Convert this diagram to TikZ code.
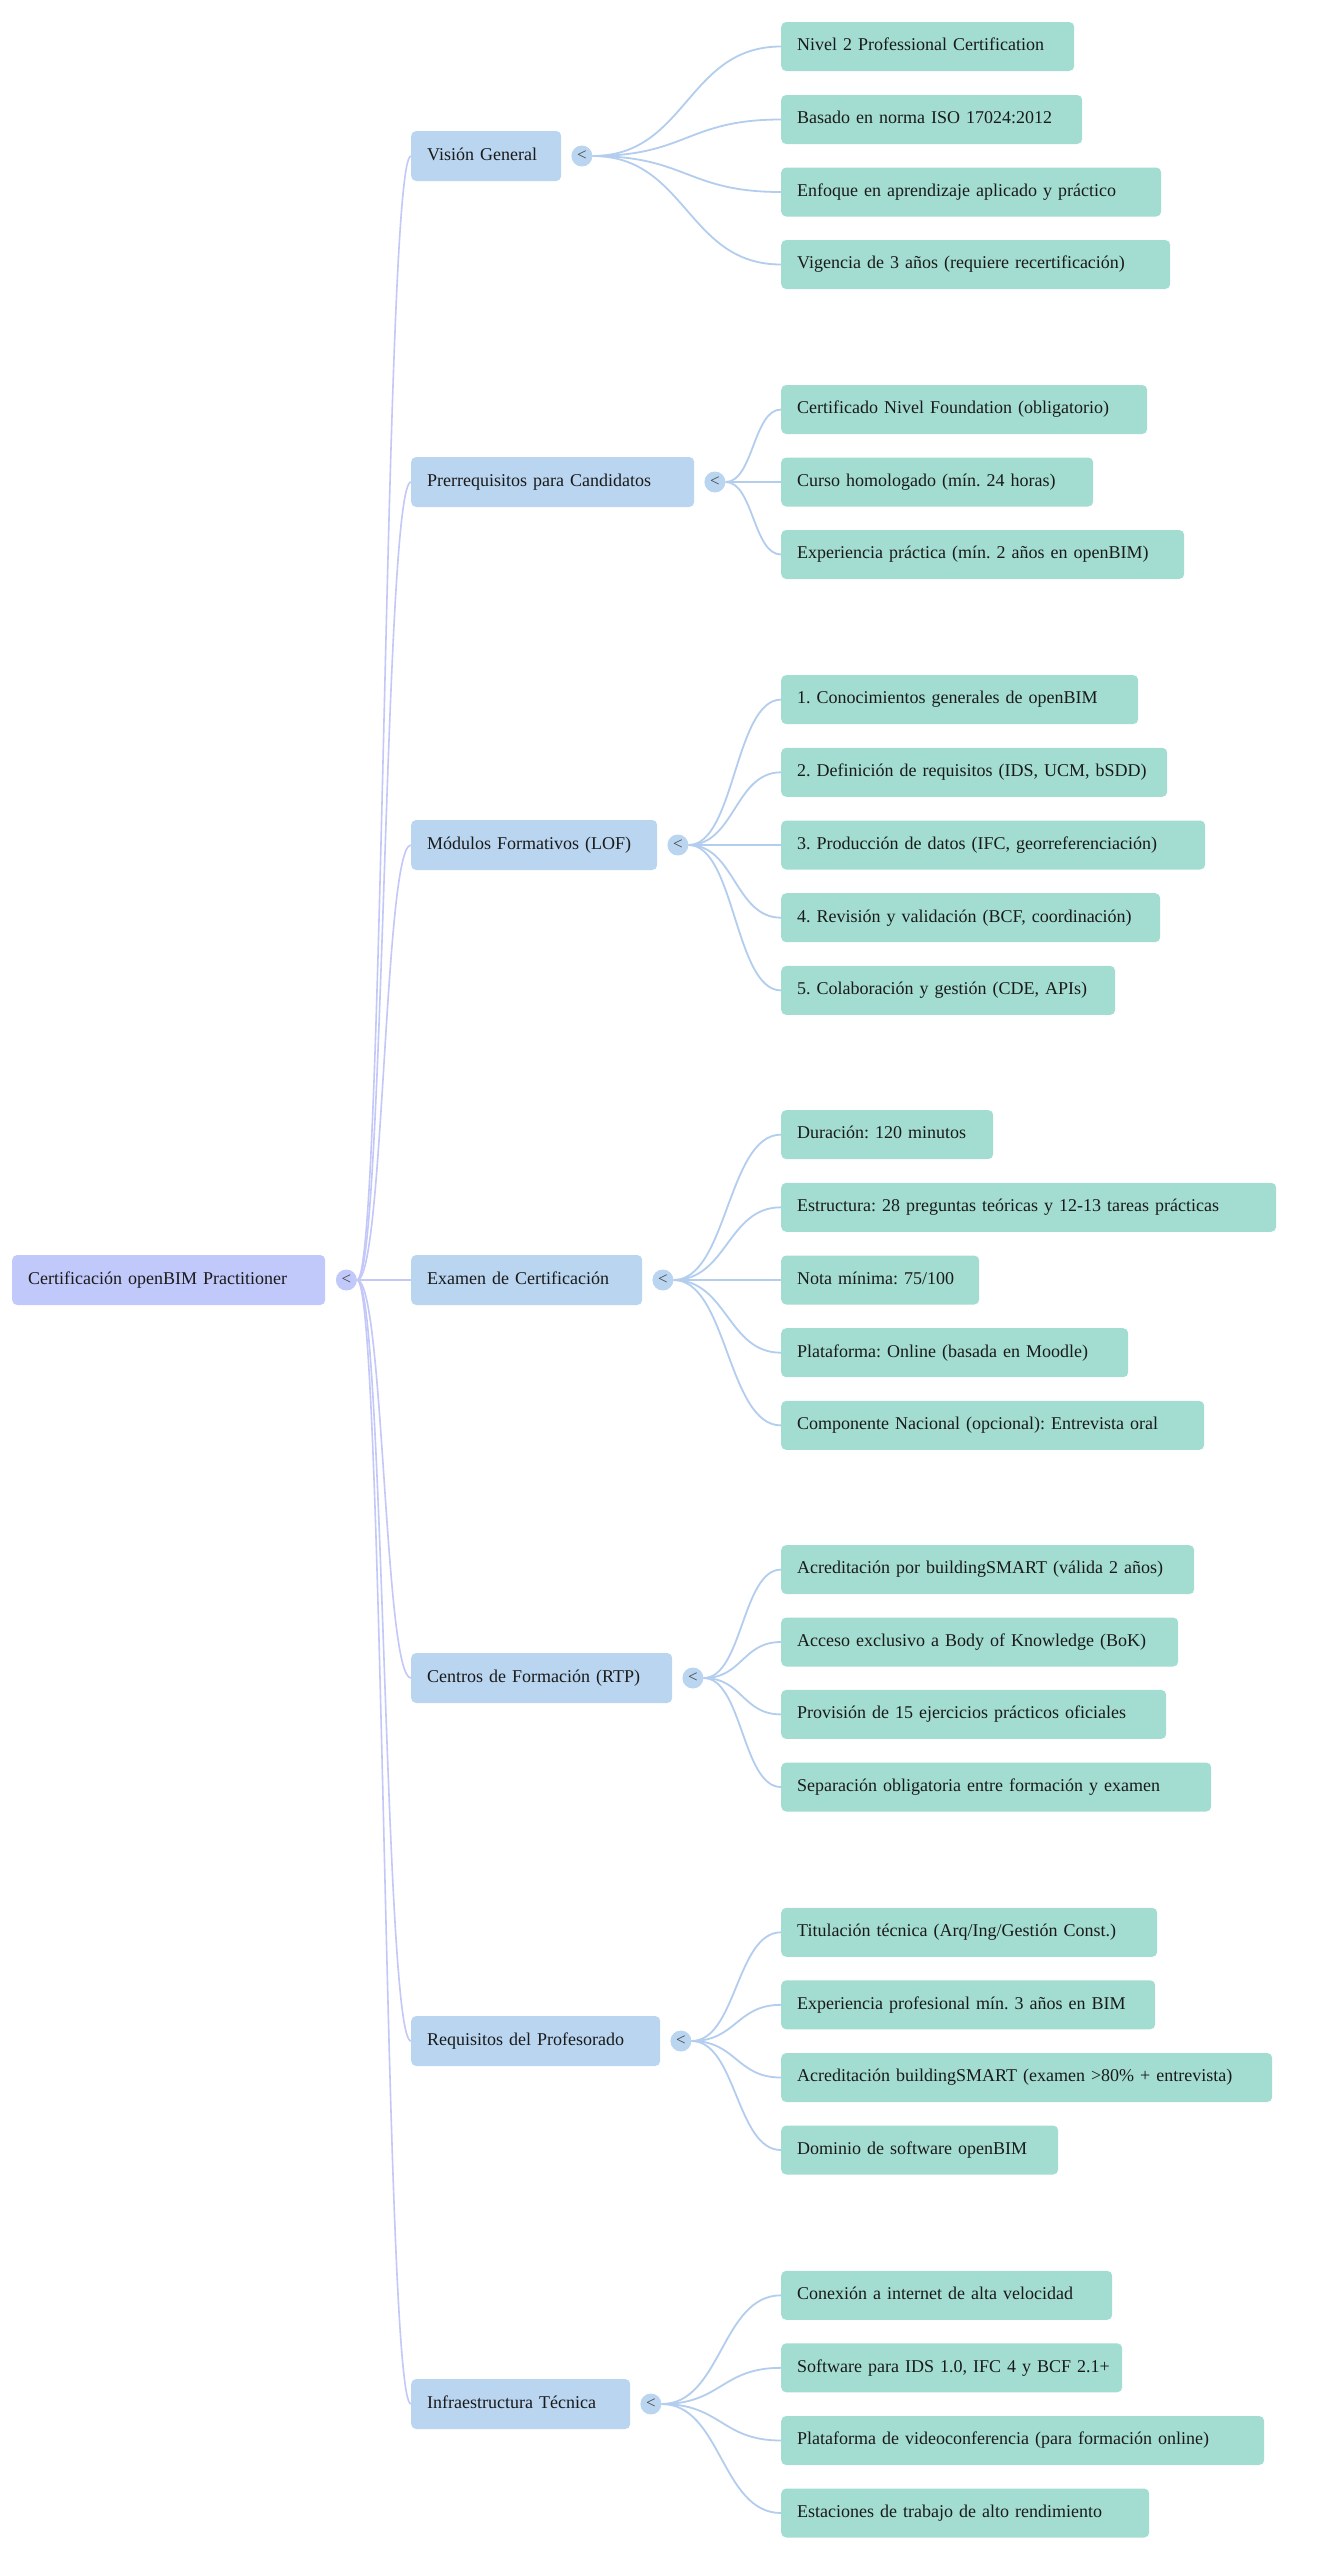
\documentclass[tikz,border=0pt]{standalone}
\usepackage{fontspec}
\setmainfont{Liberation Serif}
\usetikzlibrary{calc}
\definecolor{rootc}{HTML}{C1C9FB}
\definecolor{brc}{HTML}{B9D5F0}
\definecolor{leafc}{HTML}{A3DDD1}
\definecolor{rlinec}{HTML}{C3C8F8}
\definecolor{blinec}{HTML}{B3CDEE}
\definecolor{txtc}{HTML}{1A1A1A}
\definecolor{togtxt}{HTML}{444444}
\pgfdeclarelayer{bg}
\pgfdeclarelayer{lines}
\pgfsetlayers{bg,lines,main}
\newcommand\mmlink[3]{\draw[#1] let \p1=(#2.east), \p2=(#3.west) in (\p1) .. controls ({(\x1+\x2)/2},\y1) and ({(\x1+\x2)/2},\y2) .. (\p2);}
\begin{document}
\frenchspacing
\begin{tikzpicture}[x=1pt,y=-1pt,
  box/.style={rounded corners=5pt, anchor=west, inner xsep=16pt, inner ysep=0pt,
    text height=12.6pt, text depth=3.9pt, align=left,
    font=\fontsize{18}{21}\selectfont\frenchspacing, text=txtc,
    execute at begin node={\leavevmode\hbox\bgroup},
    execute at end node={\egroup}},
  rootbox/.style={box, fill=rootc, minimum height=50pt, text width=#1},
  brbox/.style={box, fill=brc, minimum height=50pt, text width=#1},
  leafbox/.style={box, fill=leafc, minimum height=49pt, text width=#1},
  tog/.style={circle, fill=#1, minimum size=21pt, inner sep=0pt,
    font=\fontsize{17}{17}\selectfont, text=togtxt},
  rline/.style={draw=rlinec, line width=1.6pt},
  bline/.style={draw=blinec, line width=1.8pt}]
\begin{pgfonlayer}{bg}
\fill[white] (0,0) rectangle (1319,2560);
\end{pgfonlayer}
\useasboundingbox (0,0) rectangle (1319,2560);

% root
\node[rootbox=281pt] (root) at (12,1280) {Certificación openBIM Practitioner};
\node[tog=rootc] (rc) at ($(root.east)+(21,0)$) {<};

% branches
\node[brbox=118pt] (b1) at (411,156) {Visión General};
\node[brbox=251pt] (b2) at (411,482) {Prerrequisitos para Candidatos};
\node[brbox=214pt] (b3) at (411,845) {Módulos Formativos (LOF)};
\node[brbox=199pt] (b4) at (411,1280) {Examen de Certificación};
\node[brbox=229pt] (b5) at (411,1678) {Centros de Formación (RTP)};
\node[brbox=217pt] (b6) at (411,2041) {Requisitos del Profesorado};
\node[brbox=187pt] (b7) at (411,2404) {Infraestructura Técnica};
\foreach \i in {1,...,7}{\node[tog=brc] (c\i) at ($(b\i.east)+(20.5,0)$) {<};}

% leaves: Visión General
\node[leafbox=261pt] (l11) at (781,46.5) {Nivel 2 Professional Certification};
\node[leafbox=269pt] (l12) at (781,119.5) {Basado en norma ISO 17024:2012};
\node[leafbox=348pt] (l13) at (781,192) {Enfoque en aprendizaje aplicado y práctico};
\node[leafbox=357pt] (l14) at (781,264.5) {Vigencia de 3 años (requiere recertificación)};
% Prerrequisitos
\node[leafbox=334pt] (l21) at (781,409.5) {Certificado Nivel Foundation (obligatorio)};
\node[leafbox=280pt] (l22) at (781,482) {Curso homologado (mín. 24 horas)};
\node[leafbox=371pt] (l23) at (781,554.5) {Experiencia práctica (mín. 2 años en openBIM)};
% Módulos
\node[leafbox=325pt] (l31) at (781,699.6) {1. Conocimientos generales de openBIM};
\node[leafbox=354pt] (l32) at (781,772.3) {2. Definición de requisitos (IDS, UCM, bSDD)};
\node[leafbox=392pt] (l33) at (781,845) {3. Producción de datos (IFC, georreferenciación)};
\node[leafbox=347pt] (l34) at (781,917.7) {4. Revisión y validación (BCF, coordinación)};
\node[leafbox=302pt] (l35) at (781,990.4) {5. Colaboración y gestión (CDE, APIs)};
% Examen
\node[leafbox=180pt] (l41) at (781,1134.6) {Duración: 120 minutos};
\node[leafbox=463pt] (l42) at (781,1207.3) {Estructura: 28 preguntas teóricas y 12-13 tareas prácticas};
\node[leafbox=166pt] (l43) at (781,1280) {Nota mínima: 75/100};
\node[leafbox=315pt] (l44) at (781,1352.7) {Plataforma: Online (basada en Moodle)};
\node[leafbox=391pt] (l45) at (781,1425.4) {Componente Nacional (opcional): Entrevista oral};
% Centros
\node[leafbox=381pt] (l51) at (781,1569.6) {Acreditación por buildingSMART (válida 2 años)};
\node[leafbox=365pt] (l52) at (781,1642) {Acceso exclusivo a Body of Knowledge (BoK)};
\node[leafbox=353pt] (l53) at (781,1714.4) {Provisión de 15 ejercicios prácticos oficiales};
\node[leafbox=398pt] (l54) at (781,1787) {Separación obligatoria entre formación y examen};
% Requisitos
\node[leafbox=344pt] (l61) at (781,1932.3) {Titulación técnica (Arq/Ing/Gestión Const.)};
\node[leafbox=342pt] (l62) at (781,2004.8) {Experiencia profesional mín. 3 años en BIM};
\node[leafbox=459pt] (l63) at (781,2077.5) {Acreditación buildingSMART (examen >80\% + entrevista)};
\node[leafbox=245pt] (l64) at (781,2150) {Dominio de software openBIM};
% Infraestructura
\node[leafbox=299pt] (l71) at (781,2295.3) {Conexión a internet de alta velocidad};
\node[leafbox=309pt] (l72) at (781,2367.8) {Software para IDS 1.0, IFC 4 y BCF 2.1+};
\node[leafbox=451pt] (l73) at (781,2440.5) {Plataforma de videoconferencia (para formación online)};
\node[leafbox=336pt] (l74) at (781,2513) {Estaciones de trabajo de alto rendimiento};

\begin{pgfonlayer}{lines}
\foreach \i in {1,...,7}{\mmlink{rline}{rc}{b\i}}
\foreach \j in {1,...,4}{\mmlink{bline}{c1}{l1\j}}
\foreach \j in {1,...,3}{\mmlink{bline}{c2}{l2\j}}
\foreach \j in {1,...,5}{\mmlink{bline}{c3}{l3\j}}
\foreach \j in {1,...,5}{\mmlink{bline}{c4}{l4\j}}
\foreach \j in {1,...,4}{\mmlink{bline}{c5}{l5\j}}
\foreach \j in {1,...,4}{\mmlink{bline}{c6}{l6\j}}
\foreach \j in {1,...,4}{\mmlink{bline}{c7}{l7\j}}
\end{pgfonlayer}
\end{tikzpicture}
\end{document}
